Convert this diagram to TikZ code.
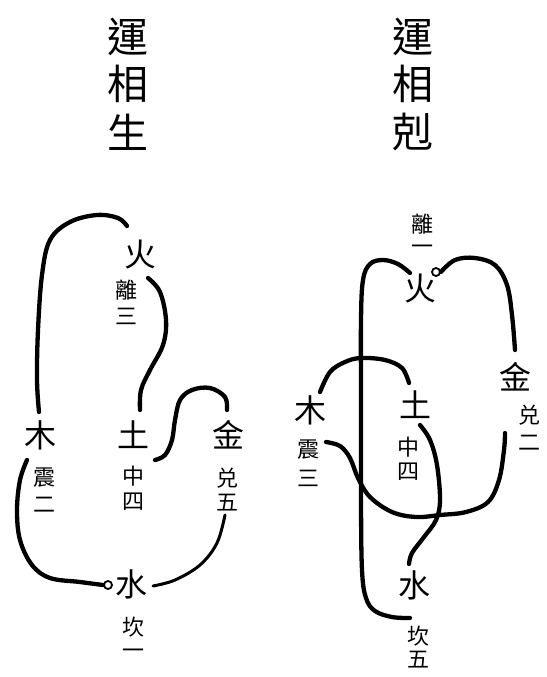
\documentclass[tikz,border=0pt]{standalone}
\usepackage{fontspec}
\newfontfamily\cjk{Noto Sans CJK TC}
\begin{document}
\begin{tikzpicture}[x=1pt,y=-1pt,
  big/.style={font=\cjk\fontsize{32}{32}\selectfont, inner sep=0pt},
  small/.style={font=\cjk\fontsize{22}{22}\selectfont, inner sep=0pt},
  title/.style={font=\cjk\fontsize{41}{41}\selectfont, inner sep=0pt},
  stroke/.style={line width=4.3pt, line cap=round, line join=round},
  ring/.style={draw, line width=1.8pt, circle, minimum size=8pt, inner sep=0pt}]
\useasboundingbox (0,0) rectangle (546,677);
% titles
\node[title] (t1) at (128,37) {運};
\node[title] (t2) at (128,84) {相};
\node[title] (t3) at (128,132) {生};
\node[title] (u1) at (413,37) {運};
\node[title] (u2) at (413,84) {相};
\node[title] (u3) at (413,132) {剋};
% left diagram
\node[big] (Lfire) at (140,255) {火};
\node[small] (Lli) at (126,290) {離};
\node[small] (Lli3) at (126,316) {三};
\node[big] (Lwood) at (40,435) {木};
\node[small] (Lzhen) at (44,478) {震};
\node[small] (Lzhen2) at (44,505) {二};
\node[big] (Learth) at (133,435) {土};
\node[small] (Lzhong) at (133,476) {中};
\node[small] (Lzhong4) at (133,502) {四};
\node[big] (Lmetal) at (228,435) {金};
\node[small] (Ldui) at (227,478) {兑};
\node[small] (Ldui5) at (227,503) {五};
\node[big] (Lwater) at (131,584) {水};
\node[small] (Lkan) at (133,627) {坎};
\node[small] (Lkan1) at (133,654) {一};
\node[ring] (Lring) at (108,585) {};
\draw[stroke] plot[smooth,tension=0.6] coordinates {(127,226) (118,218) (97,215) (70,222) (50,240) (42,275) (38,330) (37,380) (39,412)};
\draw[stroke] plot[smooth,tension=0.6] coordinates {(148,278) (160,292) (166,320) (163,345) (150,370) (141,390) (140,410)};
\draw[stroke] plot[smooth,tension=0.6] coordinates {(227,410) (225,397) (210,388) (192,390) (180,400) (175,420) (172,440) (165,455) (155,460)};
\draw[stroke] plot[smooth,tension=0.6] coordinates {(27,460) (20,480) (17,510) (20,540) (32,565) (50,578) (80,582) (Lring.west)};
\draw[stroke, line width=3pt] plot[smooth,tension=0.6] coordinates {(153,586) (175,580) (200,565) (217,543) (225,515)};
% right diagram
\node[small] (Rli) at (422,224) {離};
\node[small] (Rli1) at (422,250) {一};
\node[big] (Rfire) at (420,289) {火};
\node[ring] (Rring) at (436,272) {};
\node[big] (Rmetal) at (515,377) {金};
\node[small] (Rdui) at (529,415) {兑};
\node[small] (Rdui2) at (529,443) {二};
\node[big] (Rwood) at (310,410) {木};
\node[small] (Rzhen) at (308,450) {震};
\node[small] (Rzhen3) at (308,478) {三};
\node[big] (Rearth) at (415,405) {土};
\node[small] (Rzhong) at (408,447) {中};
\node[small] (Rzhong4) at (408,472) {四};
\node[big] (Rwater) at (414,585) {水};
\node[small] (Rkan) at (418,636) {坎};
\node[small] (Rkan5) at (418,660) {五};
\draw[stroke] plot[smooth,tension=0.6] coordinates {(410,273) (398,264) (383,260) (370,264) (363,280) (361,320) (361,400) (361,500) (362,570) (366,598) (375,611) (392,617) (410,618)};
\draw[stroke] plot[smooth,tension=0.6] coordinates {(Rring.east) (455,260) (475,258) (495,265) (507,285) (512,315) (515,350)};
\draw[stroke] plot[smooth,tension=0.6] coordinates {(320,392) (330,372) (345,362) (361,358) (385,360) (402,368) (409,383)};
\draw[stroke] plot[smooth,tension=0.6] coordinates {(420,425) (430,440) (437,465) (440,500) (436,520) (424,537) (412,553) (409,564)};
\draw[stroke] plot[smooth,tension=0.6] coordinates {(326,442) (340,446) (350,458) (358,478) (370,497) (392,512) (416,517) (440,515) (466,512) (488,502) (499,480) (504,450) (505,433)};
\end{tikzpicture}
\end{document}
